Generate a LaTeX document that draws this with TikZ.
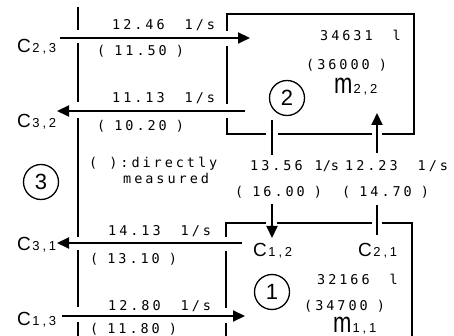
\documentclass[tikz,border=0pt]{standalone}
\usepackage{fontspec}
\usepackage{graphicx}
\usetikzlibrary{arrows.meta}

% typewriter-like figures for rates and volumes
\newfontfamily\flowfont[LetterSpace=22]{DejaVu Sans Mono}
\newfontfamily\tightfont{DejaVu Sans Mono}
% sans letters for C, m and the zone numbers
\newfontfamily\labelfont{Liberation Sans}
\newfontfamily\indexfont[LetterSpace=22]{Liberation Sans}

\newcommand\ug{\hspace{20pt}}
\newcommand\widesp{\spaceskip=9pt\relax}
\newcommand\clab[1]{{\labelfont\fontsize{19}{19}\selectfont C}{\indexfont\fontsize{13}{13}\selectfont\hspace{1.5pt}#1}}
\newcommand\mlab[1]{{\labelfont\fontsize{22}{22}\selectfont\scalebox{1}[1.3]{m}}{\indexfont\fontsize{13}{13}\selectfont\hspace{1pt}#1}}

\tikzset{
  wall/.style={line width=2pt, line cap=butt},
  flow/.style={line width=2pt},
  inflow/.style={flow, -{Triangle[length=12pt,width=11pt]}},
  txt/.style={anchor=base west, inner sep=0pt,
              font=\flowfont\fontsize{13.5}{14}\selectfont,
              execute at begin node=\widesp},
  clabel/.style={anchor=base west, inner sep=0pt},
  zone/.style={circle, draw, line width=1.3pt, minimum size=35pt, inner sep=0pt,
               font=\labelfont\fontsize{22}{22}\selectfont},
}

\begin{document}
\begin{tikzpicture}[x=1pt, y=-1pt]
  \useasboundingbox[fill=white] (0,0) rectangle (454,336);

  % boundary of zone 3
  \draw[wall] (78,7) -- (78,30);
  \draw[wall] (78,43) -- (78,102);
  \draw[wall] (78,118) -- (78,237);
  \draw[wall] (78,250) -- (78,307);
  \draw[wall] (78,322) -- (78,338);

  % zone 2 room
  \draw[wall] (227,31) -- (227,14) -- (414,14) -- (414,134) -- (382,134);
  \draw[wall] (372,134) -- (278,134);
  \draw[wall] (266,134) -- (227,134) -- (227,118);
  \draw[wall] (227,104) -- (227,46);

  % zone 1 room
  \draw[wall] (226,237) -- (226,223) -- (266,223);
  \draw[wall] (277,223) -- (372,223);
  \draw[wall] (382,223) -- (412,223) -- (412,338);
  \draw[wall] (226,251) -- (226,308);
  \draw[wall] (226,323) -- (226,338);

  % flow end points
  \coordinate (s23) at (60,38);   \coordinate (e23) at (250,38);
  \coordinate (s32) at (245,111); \coordinate (e32) at (57,111);
  \coordinate (s31) at (242,243); \coordinate (e31) at (57,243);
  \coordinate (s13) at (62,316);  \coordinate (e13) at (245,316);
  \coordinate (s12) at (272,120); \coordinate (b12) at (272,155);
  \coordinate (c12) at (272,204); \coordinate (e12) at (272,238);
  \coordinate (s21) at (377,205); \coordinate (b21) at (377,235);
  \coordinate (c21) at (377,153); \coordinate (e21) at (377,113);

  \draw[inflow] (s23) -- (e23);
  \draw[inflow] (s32) -- (e32);
  \draw[inflow] (s31) -- (e31);
  \draw[inflow] (s13) -- (e13);
  \draw[flow] (s12) -- (b12);
  \draw[inflow] (c12) -- (e12);
  \draw[flow] (s21) -- (b21);
  \draw[inflow] (c21) -- (e21);

  % flow rates, measured values in brackets
  \node[txt] (f23) at (112,30) {12.46\ug 1/s};
  \node[txt] (m23) at (97,56) {( 11.50 )};
  \node[txt] (f32) at (112,103) {11.13\ug 1/s};
  \node[txt] (m32) at (97,131) {( 10.20 )};
  \node[txt] (n1) at (89,168) {(\hspace{3pt} ):directly};
  \node[txt] (n2) at (123,184) {measured};
  \node[txt] (f31) at (108,236) {14.13\ug 1/s};
  \node[txt] (m31) at (90,263) {( 13.10 )};
  \node[txt] (f13) at (108,310) {12.80\ug 1/s};
  \node[txt] (m13) at (90,333) {( 11.80 )};
  \node[txt] (f12) at (250,171) {13.56\hspace{12pt}{\tightfont 1/s}};
  \node[txt] (m12) at (235,197) {( 16.00 )};
  \node[txt] (f21) at (345,171) {12.23\ug 1/s};
  \node[txt] (m21) at (342,197) {( 14.70 )};

  % room volumes
  \node[txt] (v2) at (320,41) {34631\ug l};
  \node[txt] (w2) at (306,70) {(36000 )};
  \node[txt] (v1) at (317,284) {32166\ug l};
  \node[txt] (w1) at (304,310) {(34700 )};

  % concentration and mass labels
  \node[clabel] (C23) at (17,53) {\clab{2,3}};
  \node[clabel] (C32) at (17,128) {\clab{3,2}};
  \node[clabel] (C31) at (17,250) {\clab{3,1}};
  \node[clabel] (C13) at (17,325) {\clab{1,3}};
  \node[clabel] (C12) at (253,256) {\clab{1,2}};
  \node[clabel] (C21) at (358,256) {\clab{2,1}};
  \node[clabel] (M22) at (334,94) {\mlab{2,2}};
  \node[clabel] (M11) at (333,332) {\mlab{1,1}};

  % zone numbers
  \node[zone] (z2) at (287,98) {2};
  \node[zone] (z1) at (272,292) {1};
  \node[zone] (z3) at (41,182) {3};
\end{tikzpicture}
\end{document}
